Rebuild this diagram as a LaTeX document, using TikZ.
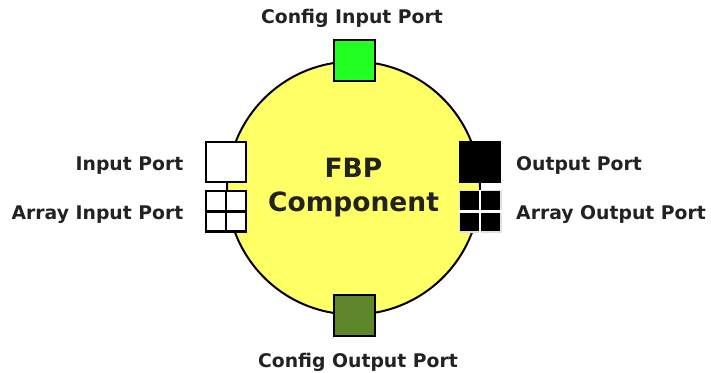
\documentclass[tikz,border=0pt]{standalone}
\usepackage{fontspec}
\setmainfont{DejaVu Sans}
\usepackage{xcolor}
\usetikzlibrary{positioning, calc}
\definecolor{compyellow}{HTML}{FFFF66}
\definecolor{cfggreen}{HTML}{22FF22}
\definecolor{cfgolive}{HTML}{5E862A}
\definecolor{lbltext}{HTML}{222222}

\begin{document}
\begin{tikzpicture}[x=1pt, y=1pt,
    comp/.style={circle, draw=black, line width=2pt, fill=compyellow,
                 minimum size=253pt, inner sep=0pt, align=center,
                 font=\fontsize{26.5}{34}\selectfont\bfseries, text=lbltext},
    port/.style={rectangle, draw=black, line width=2.4pt, fill=#1,
                 minimum size=40.5pt, inner sep=0pt},
    portlbl/.style={font=\fontsize{18.8}{22}\selectfont\bfseries,
                    text=lbltext, inner sep=0pt}
]
\useasboundingbox (0,0) rectangle (711,372);

% --- component body ---
\node[comp] (fbp) at (353.5,184) {FBP\\Component};

% --- ports sitting on the rim ---
\node[port=cfggreen] (cfgin) at ([xshift=1pt]fbp.north) {};
\node[port=cfgolive] (cfgout) at ([xshift=1pt]fbp.south) {};
\node[port=white] (inport) at ([yshift=26pt]fbp.west) {};
\node[port=white] (arrin) at ([yshift=-23.4pt]fbp.west) {};
\node[port=black] (outport) at ([xshift=-1pt, yshift=26pt]fbp.east) {};
\node[port=black, draw=black!12, line width=1.5pt, minimum size=41.5pt] (arrout)
    at ([xshift=-1pt, yshift=-23.4pt]fbp.east) {};

% --- array cells ---
\draw[line width=2.4pt] (arrin.north) -- (arrin.south) (arrin.west) -- (arrin.east);
\draw[line width=2.4pt, white] (arrout.north) -- (arrout.south) (arrout.west) -- (arrout.east);

% --- port labels ---
\node[portlbl, anchor=base] (cfginlbl) at ([xshift=-2.5pt, yshift=15.5pt]cfgin.north) {Config Input Port};
\node[portlbl, anchor=base] (cfgoutlbl) at ([xshift=3.5pt, yshift=-31pt]cfgout.south) {Config Output Port};
\node[portlbl, anchor=base east] (inlbl) at ([xshift=-21pt, yshift=-8.7pt]inport.west) {Input Port};
\node[portlbl, anchor=base east] (arrinlbl) at ([xshift=-21pt, yshift=-8.6pt]arrin.west) {Array Input Port};
\node[portlbl, anchor=base west] (outlbl) at ([xshift=14.5pt, yshift=-8.7pt]outport.east) {Output Port};
\node[portlbl, anchor=base west] (arroutlbl) at ([xshift=14.5pt, yshift=-8.6pt]arrout.east) {Array Output Port};

\end{tikzpicture}
\end{document}
